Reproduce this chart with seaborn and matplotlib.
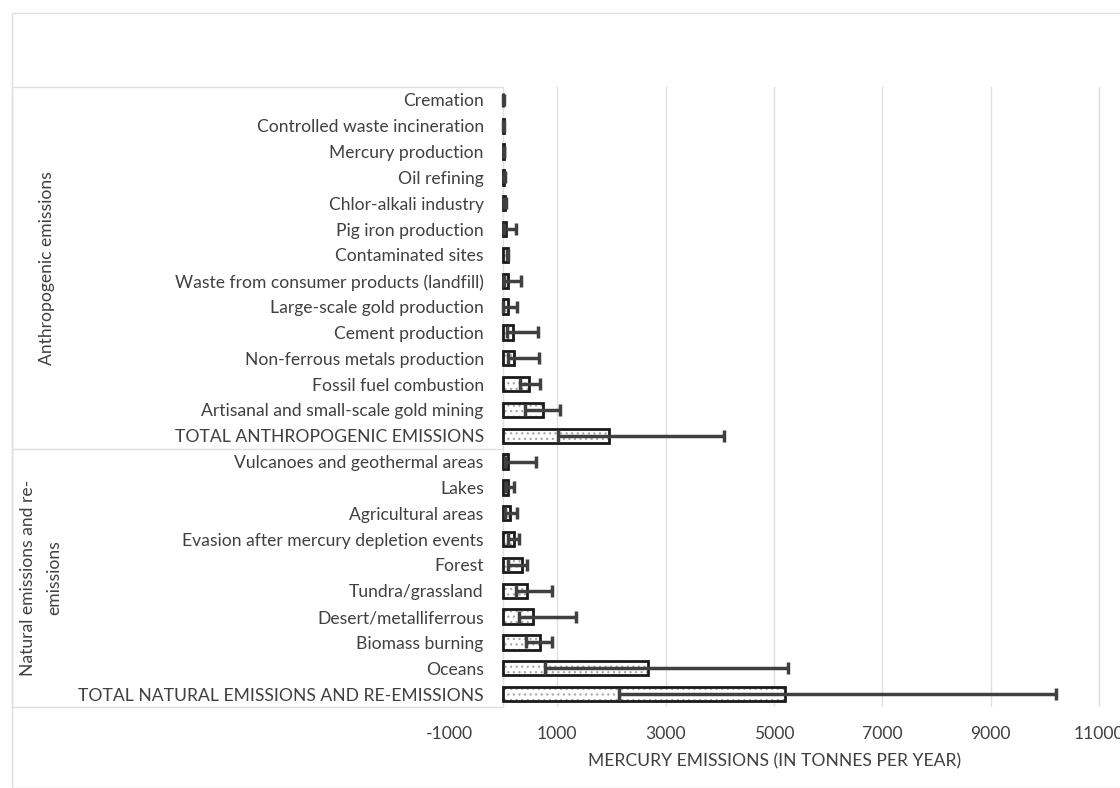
"""
Global mercury emissions by source, with min-max ranges as error bars
"""
import numpy as np
import pandas as pd
import matplotlib
matplotlib.use('Agg')
import matplotlib.pyplot as plt
import matplotlib.transforms as mtransforms
from matplotlib.patches import Rectangle
import seaborn as sns

# Source categories, top to bottom
sources = [
    'Cremation', 'Controlled waste incineration', 'Mercury production', 'Oil refining',
    'Chlor-alkali industry', 'Pig iron production', 'Contaminated sites',
    'Waste from consumer products (landfill)', 'Large-scale gold production',
    'Cement production', 'Non-ferrous metals production', 'Fossil fuel combustion',
    'Artisanal and small-scale gold mining', 'TOTAL ANTHROPOGENIC EMISSIONS',
    'Vulcanoes and geothermal areas', 'Lakes', 'Agricultural areas',
    'Evasion after mercury depletion events', 'Forest', 'Tundra/grassland',
    'Desert/metalliferrous', 'Biomass burning', 'Oceans',
    'TOTAL NATURAL EMISSIONS AND RE-EMISSIONS',
]

# Best estimate (tonnes per year)
emissions = [3.6, 9.6, 11.7, 16, 28.4, 45.5, 82.5, 95.6, 97.3, 173, 193, 474, 727, 1960,
             90, 96, 128, 200, 342, 448, 546, 675, 2682, 5207]
# Lower and upper end of the range
range_low = [0.9, 4, 6.9, 7.1, 10.2, 20.5, 70, 23.7, 0.7, 65.5, 82, 304, 410, 1010,
             40, 50, 30, 80, 90, 240, 290, 430, 770, 2140]
range_high = [11.9, 20, 17.8, 29.8, 54.7, 241, 95, 330, 247, 646, 660, 678, 1040, 4070,
              600, 200, 260, 300, 440, 900, 1340, 910, 5260, 10200]

groups = ['Anthropogenic emissions', 'Natural emissions and re-\nemissions']
group_sizes = [14, 10]

x_ticks = [-1000, 1000, 3000, 5000, 7000, 9000, 11000]

df = pd.DataFrame({'source': sources, 'value': emissions,
                   'low': range_low, 'high': range_high})

sns.set_style('white')
plt.rcParams['font.family'] = ['Lato', 'DejaVu Sans']
plt.rcParams['hatch.linewidth'] = 0.9

text_col = '#404040'
grid_col = '#e0e0e0'
fs = 12.6

fig = plt.figure(figsize=(11.2, 7.88), dpi=100)
ax = fig.add_axes([449 / 1120, 1 - 707 / 788, 1 - 449 / 1120, (707 - 87) / 788])

# dotted fill, then black outline on top
sns.barplot(data=df, x='value', y='source', orient='h', color='white',
            edgecolor='#a8a8a8', linewidth=0, hatch='...', width=0.55, ax=ax)
sns.barplot(data=df, x='value', y='source', orient='h', color='#1a1a1a',
            fill=False, linewidth=2, width=0.55, ax=ax)

pos = np.arange(len(df))
ax.errorbar(df['value'], pos,
            xerr=[df['value'] - df['low'], df['high'] - df['value']],
            fmt='none', ecolor='#404040', elinewidth=2.5, capsize=4, capthick=2.5,
            zorder=5)

ax.set_xlim(-1000, 11387)
ax.set_ylim(len(df) - 0.5, -0.5)
ax.set_xticks(x_ticks)
ax.set_xticklabels([str(t) for t in x_ticks], fontsize=fs, color=text_col)
ax.tick_params(axis='x', length=0, pad=14)
ax.tick_params(axis='y', length=0, pad=-25, labelsize=fs, labelcolor=text_col)
for lab in ax.get_yticklabels():
    lab.set_horizontalalignment('right')

# gridlines only to the right of zero
for t in x_ticks[1:]:
    ax.axvline(t, color=grid_col, lw=1, zorder=0)
ax.axvline(0, color=grid_col, lw=1, zorder=0)
for s in ax.spines.values():
    s.set_visible(False)

ax.set_xlabel('MERCURY EMISSIONS (IN TONNES PER YEAR)', fontsize=fs,
              color=text_col)
ax.xaxis.set_label_coords((775 - 449) / (1120 - 449), -0.075)
ax.set_ylabel('')

# multi-level category table on the left
trans = mtransforms.blended_transform_factory(fig.transFigure, ax.transData)
x0, x1 = 12 / 1120, 503 / 1120
edges = np.concatenate([[0], np.cumsum(group_sizes)]) - 0.5
for e in edges:
    ax.plot([x0, x1], [e, e], transform=trans, color=grid_col, lw=1, clip_on=False)
ax.plot([x0, x0], [edges[0], edges[-1]], transform=trans, color=grid_col, lw=1,
        clip_on=False)
group_x = [47 / 1120, 41 / 1120]
for g, lo, hi, gx in zip(groups, edges[:-1], edges[1:], group_x):
    ax.text(gx, (lo + hi) / 2, g, transform=trans, rotation=90, ha='center',
            va='center', fontsize=fs, color=text_col, linespacing=1.75,
            multialignment='center')

# outer chart border
fig.patches.append(Rectangle((12 / 1120, 0), 1.1, 1 - 13 / 788, transform=fig.transFigure,
                             fill=False, edgecolor=grid_col, lw=1))

fig.savefig('out.png', dpi=100)
